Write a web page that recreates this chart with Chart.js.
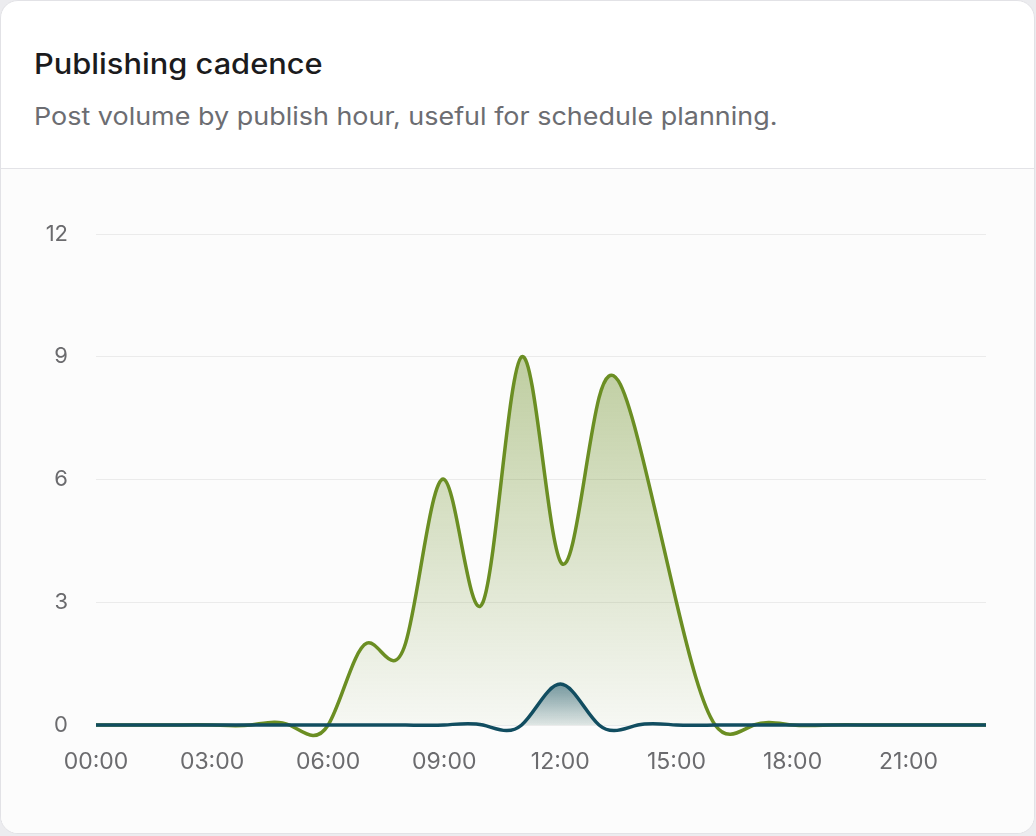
<!DOCTYPE html>
<html>
<head>
<meta charset="utf-8">
<script src="https://cdn.jsdelivr.net/npm/chart.js@4/dist/chart.umd.min.js"></script>
<style>
    html, body { margin: 0; padding: 0; background: #ececef; }
    body { width: 1036px; height: 836px; position: relative; overflow: hidden; font-family: Inter, 'Noto Sans', sans-serif; }
    .card { position: absolute; left: 0; top: 0; width: 1035px; height: 834px; box-sizing: border-box; border: 1px solid #e2e2e6; border-radius: 18px; background: #fff; overflow: hidden; }
    .card-header { height: 167px; border-bottom: 1px solid #e3e3e7; position: relative; }
    .card-title { position: absolute; left: 33px; top: 45px; font-size: 28px; line-height: 36px; font-weight: 500; color: #1b1b1d; transform: scaleX(1.1); transform-origin: left center; white-space: nowrap; }
    .card-sub { position: absolute; left: 33px; top: 100px; font-size: 24.5px; line-height: 30px; color: #6c6d72; transform: scaleX(1.1); transform-origin: left center; white-space: nowrap; }
    .chart-wrap { position: absolute; left: 0; top: 168px; width: 1033px; height: 664px; background: #fcfcfc; }
</style>
</head>
<body>
<div class="card">
    <div class="card-header">
        <div class="card-title">Publishing cadence</div>
        <div class="card-sub">Post volume by publish hour, useful for schedule planning.</div>
    </div>
    <div class="chart-wrap"><canvas id="cadenceChart"></canvas></div>
</div>
<script>
// Hour buckets and post counts
const hourLabels = ['00:00', '01:00', '02:00', '03:00', '04:00', '05:00', '06:00', '07:00', '08:00', '09:00', '10:00', '11:00',
    '12:00', '13:00', '14:00', '15:00', '16:00', '17:00', '18:00', '19:00', '20:00', '21:00', '22:00', '23:00'];
const primaryPosts = [0, 0, 0, 0, 0, 0, 0, 2, 2, 6, 3, 9, 4, 8, 7, 3, 0, 0, 0, 0, 0, 0, 0, 0];
const secondaryPosts = [0, 0, 0, 0, 0, 0, 0, 0, 0, 0, 0, 0, 1, 0, 0, 0, 0, 0, 0, 0, 0, 0, 0, 0];
const yTicks = [0, 3, 6, 9, 12];

const GREEN = '#6b8e23';
const TEAL = '#114d60';

// Vertical gradient from the series peak down to the zero line
function areaFill(values, rgb, topAlpha, bottomAlpha) {
    return (context) => {
        const { chart } = context;
        const { ctx, chartArea, scales } = chart;
        if (!chartArea) return null;
        const top = scales.y.getPixelForValue(Math.max(...values));
        const bottom = scales.y.getPixelForValue(0);
        const g = ctx.createLinearGradient(0, top, 0, bottom);
        g.addColorStop(0, `rgba(${rgb}, ${topAlpha})`);
        g.addColorStop(1, `rgba(${rgb}, ${bottomAlpha})`);
        return g;
    };
}

// Natural cubic spline: replace Chart.js bezier control points
const naturalSpline = {
    id: 'naturalSpline',
    beforeDatasetsDraw(chart) {
        chart.getSortedVisibleDatasetMetas().forEach(meta => {
            if (meta.type !== 'line') return;
            meta.dataset.updateControlPoints(chart.chartArea, meta.iScale.axis);
            const pts = meta.data;
            const n = pts.length;
            if (n < 3) return;
            const a = [], b = [], c = [], r = [];
            for (let i = 0; i < n; i++) {
                if (i === 0) { a[i] = 0; b[i] = 2; c[i] = 1; r[i] = 3 * (pts[1].y - pts[0].y); }
                else if (i === n - 1) { a[i] = 1; b[i] = 2; c[i] = 0; r[i] = 3 * (pts[n - 1].y - pts[n - 2].y); }
                else { a[i] = 1; b[i] = 4; c[i] = 1; r[i] = 3 * (pts[i + 1].y - pts[i - 1].y); }
            }
            const cp = [], rp = [];
            cp[0] = c[0] / b[0]; rp[0] = r[0] / b[0];
            for (let i = 1; i < n; i++) {
                const m = b[i] - a[i] * cp[i - 1];
                cp[i] = c[i] / m;
                rp[i] = (r[i] - a[i] * rp[i - 1]) / m;
            }
            const d = [];
            d[n - 1] = rp[n - 1];
            for (let i = n - 2; i >= 0; i--) d[i] = rp[i] - cp[i] * d[i + 1];
            pts.forEach((p, i) => {
                const dxPrev = i > 0 ? (p.x - pts[i - 1].x) : (pts[1].x - p.x);
                const dxNext = i < n - 1 ? (pts[i + 1].x - p.x) : (p.x - pts[i - 1].x);
                // d is dy per index step; spacing is uniform
                p.cp1x = p.x - dxPrev / 3; p.cp1y = p.y - d[i] / 3;
                p.cp2x = p.x + dxNext / 3; p.cp2y = p.y + d[i] / 3;
            });
            meta.dataset._path = undefined;
        });
    }
};

document.addEventListener('DOMContentLoaded', () => {
    const ctx = document.getElementById('cadenceChart').getContext('2d');
    new Chart(ctx, {
        type: 'line',
        data: {
            labels: hourLabels,
            datasets: [
                {
                    label: 'Secondary',
                    data: secondaryPosts,
                    borderColor: TEAL,
                    backgroundColor: areaFill(secondaryPosts, '17, 77, 96', 0.55, 0.1),
                    borderWidth: 3.5,
                    fill: 'origin',
                    tension: 0.4,
                    pointRadius: 0,
                    clip: false,
                    order: 0
                },
                {
                    label: 'Primary',
                    data: primaryPosts,
                    borderColor: GREEN,
                    backgroundColor: areaFill(primaryPosts, '107, 142, 35', 0.42, 0.04),
                    borderWidth: 3.5,
                    fill: 'origin',
                    tension: 0.4,
                    pointRadius: 0,
                    clip: false,
                    order: 1
                }
            ]
        },
        options: {
            responsive: true, maintainAspectRatio: false,
            animation: false,
            layout: { padding: { top: 65, right: 48, bottom: 0, left: 0 } },
            plugins: { legend: { display: false }, tooltip: { enabled: false } },
            scales: {
                x: {
                    grid: { display: false, drawTicks: false },
                    border: { display: false },
                    ticks: {
                        autoSkip: false, maxRotation: 0, padding: 23,
                        color: '#6b6b6e', font: { family: 'Inter', size: 23 },
                        callback: (v, i) => (i % 3 === 0 ? hourLabels[i] : '')
                    },
                    afterFit: s => { s.height = 108; }
                },
                y: {
                    min: yTicks[0], max: yTicks[yTicks.length - 1],
                    grid: { color: '#ebebeb', lineWidth: 1, drawTicks: false },
                    border: { display: false },
                    ticks: {
                        stepSize: 3, padding: 28,
                        color: '#6b6b6e', font: { family: 'Inter', size: 22 }
                    },
                    afterFit: s => { s.width = 95; }
                }
            }
        },
        plugins: [naturalSpline]
    });
});
</script>
</body>
</html>
